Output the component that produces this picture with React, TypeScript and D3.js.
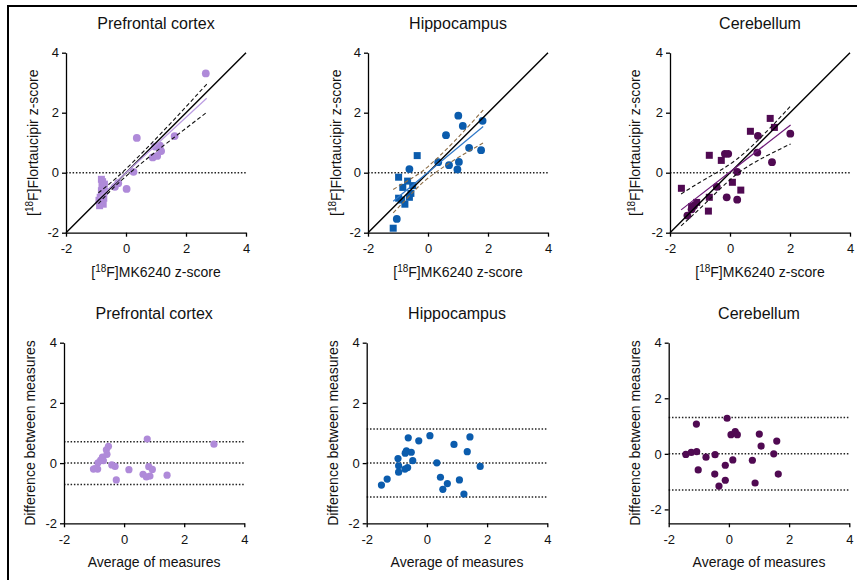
import React, { useRef, useEffect } from "react";
import * as d3 from "d3";

type Pt = [number, number];

const FONT = "'Liberation Sans', Arial, Helvetica, sans-serif";

const regions = ["Prefrontal cortex", "Hippocampus", "Cerebellum"];
const axisTicks = [-2, 0, 2, 4];
const identityLine: Pt[] = [[-2, -2], [4, 4]];

// ---- top row: [18F]MK6240 (x) vs [18F]Flortaucipir (y) ----
const pfcCircles: Pt[] = [
  [2.66, 3.31], [0.36, 1.16], [1.62, 1.22], [0.97, 0.87], [1.13, 0.9], [1.17, 0.72],
  [0.89, 0.51], [1.04, 0.56], [0.25, 0.03], [0.02, -0.54], [-0.26, -0.35], [-0.37, -0.47],
];
const pfcSquares: Pt[] = [
  [-0.82, -0.22], [-0.78, -0.3], [-0.8, -0.42], [-0.72, -0.38], [-0.76, -0.52], [-0.82, -0.6],
  [-0.72, -0.62], [-0.78, -0.72], [-0.86, -0.82], [-0.74, -0.85], [-0.9, -0.92], [-0.82, -1.0],
  [-0.88, -1.1], [-0.76, -1.05],
];
const pfcFit: Pt[] = [[-0.92, -0.85], [2.69, 2.48]];
const pfcUpper: Pt[] = [[-0.92, -0.67], [-0.07, 0.06], [1.3, 1.45], [2.69, 2.95]];
const pfcLower: Pt[] = [[-0.92, -1.03], [-0.07, -0.18], [1.3, 0.94], [2.69, 2.01]];

const hipCircles: Pt[] = [
  [1.01, 1.9], [1.16, 1.56], [1.82, 1.73], [0.6, 1.25], [1.37, 0.83], [1.77, 0.75],
  [0.34, 0.35], [0.7, 0.25], [1.03, 0.36], [0.98, 0.11], [-0.62, 0.12], [-1.04, -1.54],
];
const hipSquares: Pt[] = [
  [-0.36, 0.57], [-0.98, -0.15], [-0.84, -0.49], [-0.68, -0.28], [-0.51, -0.43], [-0.98, -0.85],
  [-0.88, -0.91], [-0.77, -1.05], [-0.57, -0.69], [-0.62, -0.82], [-1.16, -1.85],
];
const hipFit: Pt[] = [[-1.16, -0.95], [1.84, 1.54]];
const hipUpper: Pt[] = [[-1.16, -0.56], [-0.5, -0.16], [0.03, 0.23], [0.9, 1.07], [1.84, 2.09]];
const hipLower: Pt[] = [[-1.16, -1.34], [-0.5, -0.65], [0.03, -0.16], [0.9, 0.44], [1.84, 0.99]];

const cerCircles: Pt[] = [
  [0.93, 1.23], [2.01, 1.3], [-0.17, 0.63], [-0.06, 0.63], [0.91, 0.67], [1.4, 0.35],
  [0.24, 0.03], [-0.44, -0.47], [-0.11, -0.82], [0.24, -0.9], [-1.28, -1.22], [-1.42, -1.43],
  [-1.2, -1.1],
];
const cerSquares: Pt[] = [
  [1.34, 1.81], [1.48, 1.51], [0.68, 1.38], [-0.69, 0.58], [-0.29, 0.41], [-1.62, -0.52],
  [0.08, -0.32], [0.36, -0.58], [-0.69, -0.82], [-0.72, -1.28], [-1.11, -0.99], [-1.28, -1.13],
];
const cerFit: Pt[] = [[-1.63, -1.24], [2.02, 1.59]];
const cerUpper: Pt[] = [[-1.63, -0.71], [-0.8, -0.2], [0.2, 0.43], [1.2, 1.35], [2.02, 2.22]];
const cerLower: Pt[] = [[-1.63, -1.77], [-0.8, -1.0], [0.2, -0.07], [1.2, 0.55], [2.02, 0.96]];

// ---- bottom row: Bland-Altman (average, difference) ----
const pfcBA: Pt[] = [
  [0.77, 0.8], [2.99, 0.63], [-0.52, 0.56], [-0.59, 0.44], [-0.57, 0.29], [-0.72, 0.2],
  [-0.69, 0.08], [-0.78, 0.1], [-0.87, 0.01], [-0.97, -0.18], [-1.02, -0.2], [-0.88, -0.2],
  [-0.41, -0.06], [-0.3, -0.11], [0.16, -0.22], [-0.26, -0.56], [0.82, -0.12], [0.94, -0.21],
  [0.63, -0.37], [0.74, -0.46], [0.86, -0.43], [1.43, -0.4],
];
const pfcLimits = [0.71, 0, -0.71];

const hipBA: Pt[] = [
  [-0.62, 0.84], [0.1, 0.91], [-0.27, 0.74], [1.43, 0.87], [0.9, 0.62], [1.34, 0.38],
  [-0.68, 0.41], [-0.52, 0.36], [-0.72, 0.33], [-0.96, 0.15], [-0.47, 0.08], [0.33, 0.01],
  [-0.94, -0.09], [-0.64, -0.15], [-0.73, -0.2], [-0.94, -0.3], [1.77, -0.11], [-1.32, -0.53],
  [-1.51, -0.73], [0.45, -0.47], [0.68, -0.68], [1.08, -0.56], [0.53, -0.87], [1.23, -1.03],
];
const hipLimits = [1.13, 0, -1.13];

const cerBA: Pt[] = [
  [-0.06, 1.28], [-1.08, 1.07], [0.07, 0.69], [0.21, 0.8], [0.28, 0.69], [1.01, 0.71],
  [1.59, 0.46], [1.07, 0.28], [-1.43, -0.02], [-1.25, 0.05], [-1.07, 0.08], [-0.76, -0.12],
  [-0.46, -0.03], [1.49, 0.0], [0.13, -0.22], [0.78, -0.23], [-1.02, -0.58], [-0.12, -0.41],
  [-0.47, -0.73], [1.64, -0.73], [-0.12, -0.95], [0.87, -1.05], [-0.33, -1.16],
];
const cerLimits = [1.31, 0, -1.3];

const iso = (rest: string) => (
  <>
    <tspan>[</tspan>
    <tspan fontSize={10} dy={-5}>18</tspan>
    <tspan dy={5}>F]{rest}</tspan>
  </>
);

interface PanelProps {
  left: number;
  top: number;
  width: number;
  height: number;
  title: string;
  yDomain: [number, number];
  xLabel: React.ReactNode;
  yLabel: React.ReactNode;
  yLabelX: number;
  color: string;
  r: number;
  circles: Pt[];
  squares?: Pt[];
  dotted: number[];
  identity?: boolean;
  fit?: Pt[];
  fitColor?: string;
  upper?: Pt[];
  lower?: Pt[];
  bandColor?: string;
}

const Panel = (p: PanelProps) => {
  const xAxisRef = useRef<SVGGElement>(null);
  const yAxisRef = useRef<SVGGElement>(null);

  const x = d3.scaleLinear().domain([-2, 4]).range([0, p.width]);
  const y = d3.scaleLinear().domain(p.yDomain).range([p.height, 0]);

  const line = d3.line<Pt>().x(d => x(d[0])).y(d => y(d[1]));
  const band = d3.line<Pt>().x(d => x(d[0])).y(d => y(d[1])).curve(d3.curveNatural);

  useEffect(() => {
    const style = (g: d3.Selection<SVGGElement, unknown, null, undefined>) => {
      g.attr("font-size", 13).attr("font-family", FONT);
      g.select(".domain").attr("stroke-width", 1.3);
      g.selectAll(".tick line").attr("stroke-width", 1.3);
      g.selectAll(".tick text").attr("fill", "#111");
    };
    const fmt = (d: d3.NumberValue) => String(d);
    const gx = d3.select(xAxisRef.current!);
    gx.call(d3.axisBottom(x).tickValues(axisTicks).tickFormat(fmt).tickSize(4).tickSizeOuter(0).tickPadding(7) as any);
    style(gx);
    const gy = d3.select(yAxisRef.current!);
    gy.call(d3.axisLeft(y).tickValues(axisTicks).tickFormat(fmt).tickSize(4).tickSizeOuter(0).tickPadding(3) as any);
    style(gy);
  });

  const s = 7;
  return (
    <g transform={`translate(${p.left},${p.top})`} fontFamily={FONT}>
      <text x={p.width / 2} y={-23.5} fontSize={16} textAnchor="middle" fill="#111">{p.title}</text>

      {p.dotted.map((v, i) => (
        <line key={i} x1={x(-2)} x2={x(4)} y1={y(v)} y2={y(v)}
          stroke="#222" strokeWidth={1.5} strokeDasharray="1.5,1.8" />
      ))}

      {p.circles.map((d, i) => (
        <circle key={"c" + i} cx={x(d[0])} cy={y(d[1])} r={p.r} fill={p.color} />
      ))}
      {(p.squares || []).map((d, i) => (
        <rect key={"s" + i} x={x(d[0]) - s / 2} y={y(d[1]) - s / 2} width={s} height={s} fill={p.color} />
      ))}

      {p.identity && <path d={line(identityLine)!} stroke="#000" strokeWidth={1.5} fill="none" />}
      {p.fit && <path d={line(p.fit)!} stroke={p.fitColor} strokeWidth={1.2} fill="none" />}
      {p.upper && <path d={band(p.upper)!} stroke={p.bandColor} strokeWidth={1.1} strokeDasharray="4,2.5" fill="none" />}
      {p.lower && <path d={band(p.lower)!} stroke={p.bandColor} strokeWidth={1.1} strokeDasharray="4,2.5" fill="none" />}

      <g ref={xAxisRef} transform={`translate(0,${p.height})`} />
      <g ref={yAxisRef} />

      <text x={p.width / 2} y={p.height + 44} fontSize={14} textAnchor="middle" fill="#111">{p.xLabel}</text>
      <text transform={`translate(${-p.yLabelX},${p.height / 2}) rotate(-90)`} fontSize={14}
        textAnchor="middle" fill="#111">{p.yLabel}</text>
    </g>
  );
};

const App = () => {
  const purple = "#af8ad9";
  const blue = "#0b5cad";
  const plum = "#500a52";
  const topY = 52.7;
  const botY = 342.7;
  return (
    <svg width={857} height={580} style={{ position: "absolute", left: 0, top: 0, background: "#fff" }}>
      <rect width={857} height={580} fill="#fff" />
      <line x1={7} x2={857} y1={6} y2={6} stroke="#000" strokeWidth={2} />
      <line x1={8} x2={8} y1={5} y2={580} stroke="#000" strokeWidth={2} />

      <Panel left={66} top={topY} width={180} height={180} title={regions[0]} yDomain={[-2, 4]}
        xLabel={iso("MK6240 z-score")} yLabel={iso("Flortaucipir z-score")} yLabelX={28}
        color={purple} r={3.9} circles={pfcCircles} squares={pfcSquares} dotted={[0]} identity
        fit={pfcFit} fitColor="#bb9ce2" upper={pfcUpper} lower={pfcLower} bandColor="#111" />
      <Panel left={368} top={topY} width={180} height={180} title={regions[1]} yDomain={[-2, 4]}
        xLabel={iso("MK6240 z-score")} yLabel={iso("Flortaucipir z-score")} yLabelX={27.5}
        color={blue} r={3.9} circles={hipCircles} squares={hipSquares} dotted={[0]} identity
        fit={hipFit} fitColor="#2f78c8" upper={hipUpper} lower={hipLower} bandColor="#8c6d46" />
      <Panel left={670} top={topY} width={180} height={180} title={regions[2]} yDomain={[-2, 4]}
        xLabel={iso("MK6240 z-score")} yLabel={iso("Flortaucipir z-score")} yLabelX={30.5}
        color={plum} r={3.9} circles={cerCircles} squares={cerSquares} dotted={[0]} identity
        fit={cerFit} fitColor="#6e1a78" upper={cerUpper} lower={cerLower} bandColor="#111" />

      <Panel left={64} top={botY} width={180.3} height={180.6} title={regions[0]} yDomain={[-2, 4]}
        xLabel="Average of measures" yLabel="Difference between measures" yLabelX={29}
        color={purple} r={3.6} circles={pfcBA} dotted={pfcLimits} />
      <Panel left={366.7} top={botY} width={180.6} height={180.6} title={regions[1]} yDomain={[-2, 4]}
        xLabel="Average of measures" yLabel="Difference between measures" yLabelX={29}
        color={blue} r={3.6} circles={hipBA} dotted={hipLimits} />
      <Panel left={668.7} top={botY} width={180.6} height={180.6} title={regions[2]} yDomain={[-2.5, 4]}
        xLabel="Average of measures" yLabel="Difference between measures" yLabelX={29}
        color={plum} r={3.6} circles={cerBA} dotted={cerLimits} />
    </svg>
  );
};

export default App;
